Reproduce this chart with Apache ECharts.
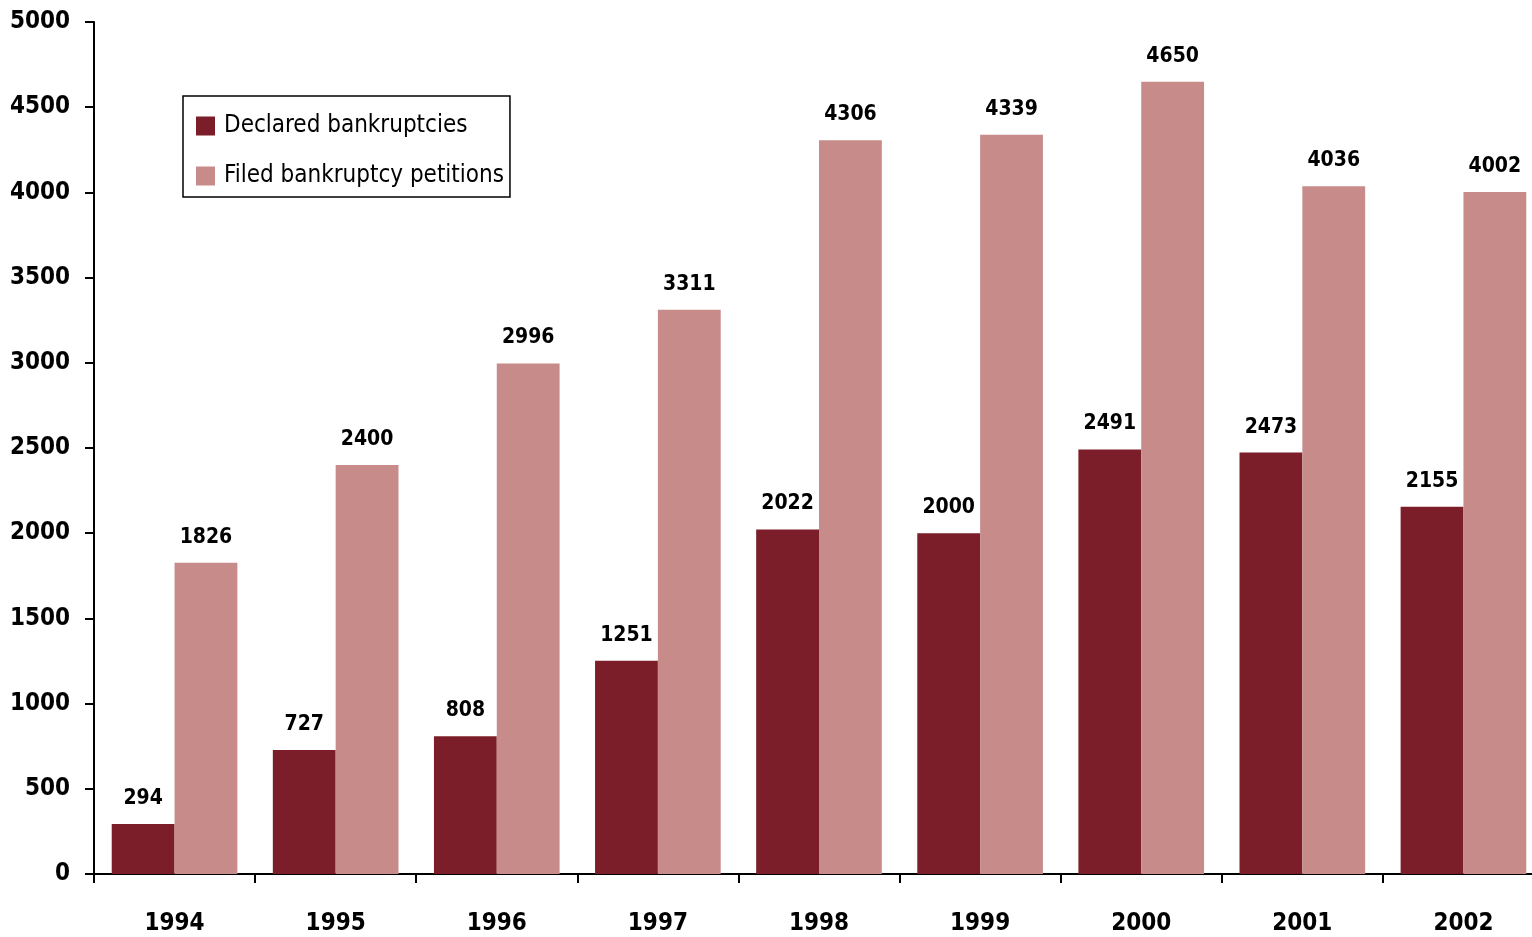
<!DOCTYPE html>
<html>
<head>
<meta charset="utf-8">
<script src="https://cdn.jsdelivr.net/npm/echarts@6/dist/echarts.min.js"></script>
<style>
  html, body { margin: 0; padding: 0; background: #fff; }
  #chart { width: 1532px; height: 937px; }
</style>
</head>
<body>
<div id="chart"></div>
<script>
// Bankruptcy counts per year
const years = ['1994', '1995', '1996', '1997', '1998', '1999', '2000', '2001', '2002'];
const declared = [294, 727, 808, 1251, 2022, 2000, 2491, 2473, 2155];
const filed = [1826, 2400, 2996, 3311, 4306, 4339, 4650, 4036, 4002];
const seriesNames = ['Declared bankruptcies', 'Filed bankruptcy petitions'];

const FONT = '"Liberation Sans Narrow", "Arial Narrow", "DejaVu Sans Condensed", sans-serif';

const chart = echarts.init(document.getElementById('chart'), null, { renderer: 'canvas' });

const valueLabel = {
  show: true,
  position: 'top',
  distance: 15,
  color: '#000',
  fontFamily: FONT,
  fontWeight: 'bold',
  fontSize: 21
};

chart.setOption({
  animation: false,
  backgroundColor: '#fff',
  grid: {
    left: 94, top: 22, width: 1450, bottom: 63,
    containLabel: false,
    outerBoundsMode: 'none'
  },
  legend: {
    orient: 'vertical',
    left: 183,
    top: 96,
    padding: [18, 6, 9, 13],
    itemGap: 26,
    itemWidth: 19,
    itemHeight: 19,
    borderColor: '#000',
    borderWidth: 1.5,
    icon: 'rect',
    textStyle: { fontFamily: FONT, fontSize: 24, color: '#000', padding: [0, 0, 0, 4] },
    data: seriesNames
  },
  xAxis: {
    type: 'category',
    data: years,
    axisLine: { lineStyle: { color: '#000', width: 2 } },
    axisTick: { show: true, length: 9, lineStyle: { color: '#000', width: 2 } },
    axisLabel: { color: '#000', fontFamily: FONT, fontWeight: 'bold', fontSize: 24, margin: 38 }
  },
  yAxis: {
    type: 'value',
    min: 0,
    max: 5000,
    interval: 500,
    splitLine: { show: false },
    axisLine: { show: true, lineStyle: { color: '#000', width: 2 } },
    axisTick: { show: true, length: 9, lineStyle: { color: '#000', width: 2 } },
    axisLabel: {
      color: '#000', fontFamily: FONT, fontWeight: 'bold', fontSize: 24, margin: 24,
      formatter: (v) => String(v)
    }
  },
  series: [
    {
      name: seriesNames[0],
      type: 'bar',
      data: declared,
      barGap: '0%',
      barCategoryGap: '22%',
      itemStyle: { color: '#7B1E29' },
      label: valueLabel
    },
    {
      name: seriesNames[1],
      type: 'bar',
      data: filed,
      barGap: '0%',
      barCategoryGap: '22%',
      itemStyle: { color: '#C78C8A' },
      label: valueLabel
    }
  ]
});
</script>
</body>
</html>
